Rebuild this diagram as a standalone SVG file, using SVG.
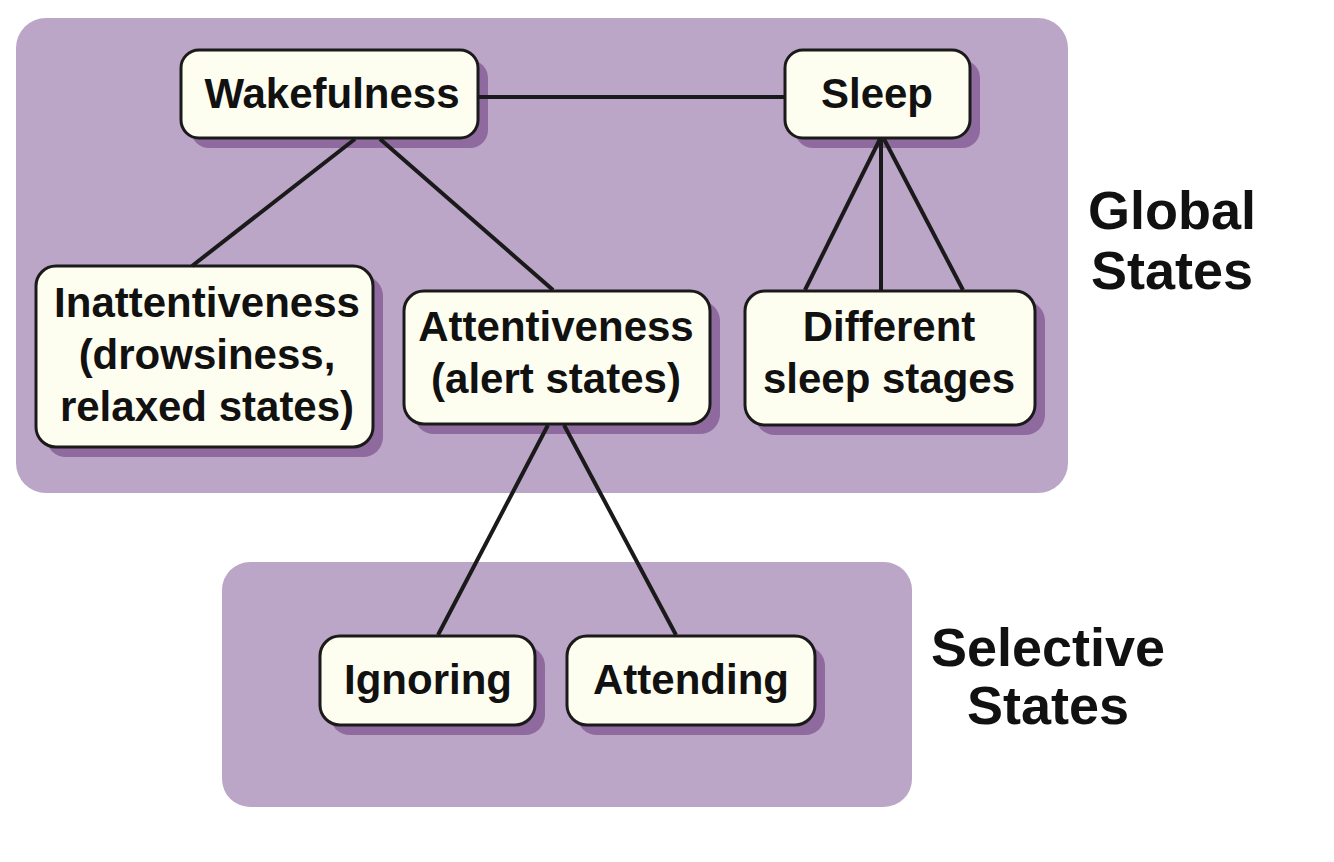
<svg xmlns="http://www.w3.org/2000/svg" width="1334" height="862" viewBox="0 0 1334 862">
<style>
.panel{fill:#BBA6C8;}
.shadow{fill:#8E6A9E;}
.box{fill:#FEFEF0;stroke:#1a1a1a;stroke-width:3;}
.t{font-family:"Liberation Sans",Arial,sans-serif;font-weight:bold;font-size:42px;fill:#111;text-anchor:middle;}
.lbl{font-family:"Liberation Sans",Arial,sans-serif;font-weight:bold;font-size:54px;fill:#111;text-anchor:middle;}
.conn line{stroke:#1a1a1a;stroke-width:4;stroke-linecap:butt;}
</style>
<rect width="1334" height="862" fill="#ffffff"/>
<g id="global-panel">
<rect class="panel" x="16" y="18" width="1052" height="475" rx="30"/>
<text class="lbl" x="1172" y="229">Global</text>
<text class="lbl" x="1172" y="289">States</text>
</g>
<g id="selective-panel">
<rect class="panel" x="222" y="562" width="690" height="245" rx="28"/>
<text class="lbl" x="1048" y="666">Selective</text>
<text class="lbl" x="1048" y="724">States</text>
</g>
<g id="wakefulness">
<rect class="shadow" x="191" y="60" width="297" height="88" rx="18"/>
<rect class="box" x="181" y="50" width="297" height="88" rx="18"/>
<text class="t" x="332" y="108">Wakefulness</text>
</g>
<g id="sleep">
<rect class="shadow" x="795" y="60" width="185" height="88" rx="18"/>
<rect class="box" x="785" y="50" width="185" height="88" rx="18"/>
<text class="t" x="877" y="108">Sleep</text>
</g>
<g id="inattentiveness">
<rect class="shadow" x="46" y="276" width="337" height="181" rx="20"/>
<rect class="box" x="36" y="266" width="337" height="181" rx="20"/>
<text class="t" x="207" y="317">Inattentiveness</text>
<text class="t" x="207" y="369">(drowsiness,</text>
<text class="t" x="207" y="421">relaxed states)</text>
</g>
<g id="attentiveness">
<rect class="shadow" x="414" y="301" width="306" height="133" rx="20"/>
<rect class="box" x="404" y="291" width="306" height="133" rx="20"/>
<text class="t" x="556" y="341">Attentiveness</text>
<text class="t" x="556" y="393">(alert states)</text>
</g>
<g id="sleep-stages">
<rect class="shadow" x="755" y="301" width="290" height="134" rx="20"/>
<rect class="box" x="745" y="291" width="290" height="134" rx="20"/>
<text class="t" x="889" y="341">Different</text>
<text class="t" x="889" y="393">sleep stages</text>
</g>
<g id="ignoring">
<rect class="shadow" x="330" y="646" width="215" height="89" rx="20"/>
<rect class="box" x="320" y="636" width="215" height="89" rx="20"/>
<text class="t" x="428" y="694">Ignoring</text>
</g>
<g id="attending">
<rect class="shadow" x="577" y="646" width="248" height="89" rx="20"/>
<rect class="box" x="567" y="636" width="248" height="89" rx="20"/>
<text class="t" x="691" y="694">Attending</text>
</g>
<g id="connectors" class="conn">
<line x1="479" y1="97" x2="784" y2="97"/>
<line x1="355" y1="139" x2="192" y2="266"/>
<line x1="380" y1="139" x2="553" y2="290"/>
<line x1="880" y1="139" x2="805" y2="290"/>
<line x1="881" y1="139" x2="881" y2="290"/>
<line x1="884" y1="139" x2="963" y2="290"/>
<line x1="548" y1="425" x2="438" y2="635"/>
<line x1="564" y1="425" x2="676" y2="635"/>
</g>
</svg>
